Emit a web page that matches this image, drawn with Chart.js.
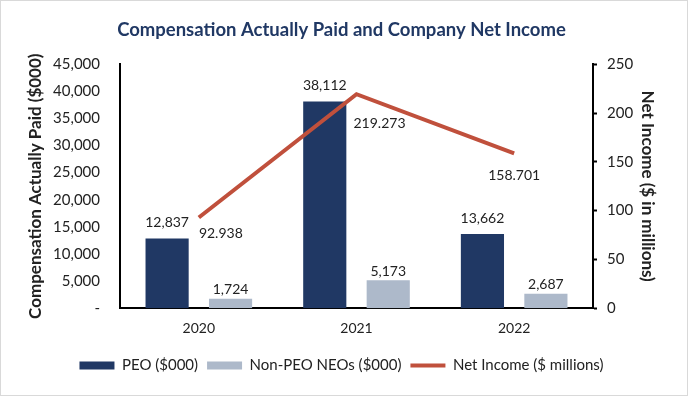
<!DOCTYPE html>
<html>
<head>
<meta charset="utf-8">
<script src="https://cdn.jsdelivr.net/npm/chart.js"></script>
<style>
  body { margin: 0; background: #fff; }
  .chart-box { width: 688px; height: 396px; box-sizing: border-box; border: 1px solid #d9d9d9; }
</style>
</head>
<body>
<div class="chart-box"><canvas id="myChart"></canvas></div>
<script>
const years = ["2020", "2021", "2022"];
const peoValues = [12837, 38112, 13662];        // PEO ($000)
const nonPeoValues = [1724, 5173, 2687];        // Non-PEO NEOs ($000)
const netIncomeValues = [92.938, 219.273, 158.701]; // Net Income ($ millions)

// where the net income labels sit relative to their points
const lineLabelNudge = [[22, 16], [23, 29], [0, 22]];

const FONT = "Lato, 'Open Sans', sans-serif";

const dataLabels = {
  id: "dataLabels",
  afterDatasetsDraw(chart) {
    const ctx = chart.ctx;
    ctx.save();
    ctx.font = "14px " + FONT;
    ctx.fillStyle = "#222";
    ctx.textAlign = "center";
    ctx.textBaseline = "middle";
    chart.data.datasets.forEach((ds, i) => {
      const meta = chart.getDatasetMeta(i);
      meta.data.forEach((el, j) => {
        const v = ds.data[j];
        if (ds.type === "line") {
          const [dx, dy] = lineLabelNudge[j];
          ctx.fillText(v.toFixed(3), el.x + dx, el.y + dy);
        } else {
          const off = i === 0 ? 16 : 9;
          ctx.fillText(v.toLocaleString("en-US"), el.x, el.y - off);
        }
      });
    });
    ctx.restore();
  }
};

new Chart(document.getElementById("myChart"), {
  data: {
    labels: years,
    datasets: [
      {
        type: "bar",
        label: "PEO ($000)",
        data: peoValues,
        backgroundColor: "#203864",
        yAxisID: "y",
        categoryPercentage: 0.805,
        barPercentage: 0.68,
        order: 2,
      },
      {
        type: "bar",
        label: "Non-PEO NEOs ($000)",
        data: nonPeoValues,
        backgroundColor: "#ADB9CA",
        yAxisID: "y",
        categoryPercentage: 0.805,
        barPercentage: 0.68,
        order: 2,
      },
      {
        type: "line",
        label: "Net Income ($ millions)",
        data: netIncomeValues,
        borderColor: "#C0503C",
        backgroundColor: "#C0503C",
        borderWidth: 4,
        pointRadius: 0,
        tension: 0,
        yAxisID: "y1",
        order: 1,
      },
    ],
  },
  options: {
    responsive: true,
    maintainAspectRatio: false,
    animation: false,
    layout: { padding: { left: 20, right: 25, bottom: 12 } },
    plugins: {
      title: {
        display: true,
        text: "Compensation Actually Paid and Company Net Income",
        color: "#203864",
        font: { family: FONT, size: 18.5, weight: "bold" },
        padding: { top: 18, bottom: 23 },
      },
      legend: {
        position: "bottom",
        labels: {
          color: "#222",
          font: { family: FONT, size: 15 },
          usePointStyle: true,
          pointStyleWidth: 35,
          boxHeight: 8,
          padding: 9,
          sort: (a, b) => a.datasetIndex - b.datasetIndex,
          generateLabels(chart) {
            const items = Chart.defaults.plugins.legend.labels.generateLabels(chart);
            items.forEach((it) => {
              const isLine = it.datasetIndex === 2;
              it.pointStyle = isLine ? "line" : "rect";
              if (!isLine) it.lineWidth = 0;
            });
            return items;
          },
        },
      },
      tooltip: { enabled: false },
    },
    scales: {
      x: {
        grid: { display: false, drawTicks: false },
        border: { color: "#000", width: 2 },
        ticks: { color: "#222", font: { family: FONT, size: 14 }, padding: 12 },
      },
      y: {
        position: "left",
        min: 0,
        max: 45000,
        afterFit: (scale) => { scale.width = 99; },
        grid: { display: false, drawTicks: false },
        border: { color: "#000", width: 2 },
        ticks: {
          stepSize: 5000,
          color: "#222",
          font: { family: FONT, size: 15 },
          padding: 20,
          callback: (v) => (v === 0 ? "-" : v.toLocaleString("en-US")),
        },
        title: {
          display: true,
          text: "Compensation Actually Paid ($000)",
          color: "#222",
          font: { family: FONT, size: 17, weight: "bold" },
          padding: { top: 4, bottom: 8 },
        },
      },
      y1: {
        position: "right",
        min: 0,
        max: 250,
        afterFit: (scale) => { scale.width = 69; },
        grid: { display: true, drawOnChartArea: false, color: "#000", tickLength: 4, tickWidth: 2 },
        border: { color: "#000", width: 2 },
        ticks: { stepSize: 50, color: "#222", font: { family: FONT, size: 15 }, padding: 10 },
        title: {
          display: true,
          text: "Net Income ($ in millions)",
          color: "#222",
          font: { family: FONT, size: 17, weight: "bold" },
        },
      },
    },
  },
  plugins: [dataLabels],
});
</script>
</body>
</html>
